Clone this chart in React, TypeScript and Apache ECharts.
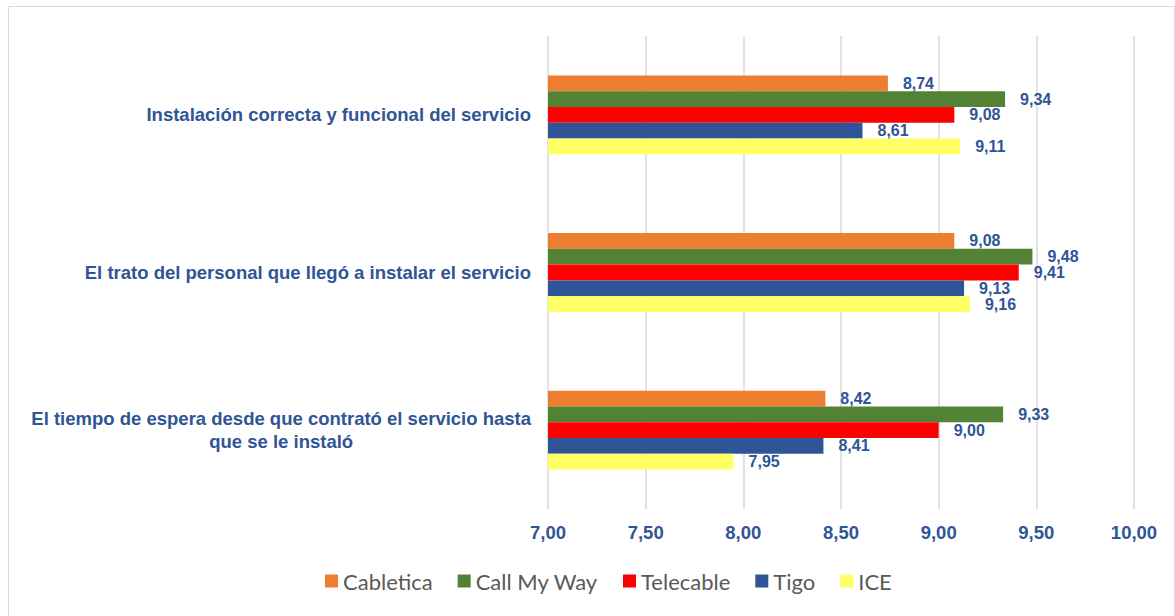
import React, { useEffect, useRef } from "react";
import * as echarts from "echarts";

const categories = [
  "Instalación correcta y funcional del servicio",
  "El trato del personal que llegó a instalar el servicio",
  "El tiempo de espera desde que contrató el servicio hasta\nque se le instaló",
];
const seriesNames = ["Cabletica", "Call My Way", "Telecable", "Tigo", "ICE"];
const cabletica = [8.74, 9.08, 8.42];
const callMyWay = [9.34, 9.48, 9.33];
const telecable = [9.08, 9.41, 9.0];
const tigo = [8.61, 9.13, 8.41];
const ice = [9.11, 9.16, 7.95];
const seriesColors = ["#ED7D31", "#548235", "#FF0000", "#2F5597", "#FFFF66"];
const xTicks = { min: 7, max: 10, interval: 0.5 };

const fmt = (v: number) => v.toFixed(2).replace(".", ",");

const blue = "#2F5597";

export default function App() {
  const ref = useRef<HTMLDivElement>(null);
  useEffect(() => {
    if (!ref.current) return;
    const chart = echarts.init(ref.current, undefined, { renderer: "svg" });
    const values = [cabletica, callMyWay, telecable, tigo, ice];
    chart.setOption({
      animation: false,
      backgroundColor: "#ffffff",
      grid: { left: 539, right: 40, top: 29, bottom: 108, containLabel: false },
      legend: {
        top: 558,
        left: 311,
        itemWidth: 13,
        itemHeight: 13,
        itemGap: 25,
        icon: "rect",
        textStyle: { fontFamily: "Lato", fontSize: 22, color: "#595959" },
        data: seriesNames,
      },
      xAxis: {
        type: "value",
        min: xTicks.min,
        max: xTicks.max,
        interval: xTicks.interval,
        axisLine: { show: false },
        axisTick: { show: false },
        splitLine: { lineStyle: { color: "#d9d9d9", width: 1.5 } },
        axisLabel: {
          margin: 14,
          fontFamily: "Liberation Sans",
          fontWeight: "bold",
          fontSize: 18.5,
          color: blue,
          formatter: (v: number) => fmt(v),
        },
      },
      yAxis: {
        type: "category",
        inverse: true,
        data: categories,
        axisLine: { show: false },
        axisTick: { show: false },
        axisLabel: {
          margin: 17,
          fontFamily: "Liberation Sans",
          fontWeight: "bold",
          fontSize: 18.5,
          color: blue,
          lineHeight: 23,
          formatter: (v: string) => {
            const parts = v.split("\n");
            if (parts.length === 1) return `{a|${parts[0]}}`;
            return parts.map((p) => `{c|${p}}`).join("\n");
          },
          rich: {
            a: {
              fontFamily: "Liberation Sans",
              fontWeight: "bold",
              fontSize: 18.5,
              color: blue,
            },
            c: {
              fontFamily: "Liberation Sans",
              fontWeight: "bold",
              fontSize: 18.5,
              color: blue,
              align: "center",
              lineHeight: 23,
            },
          },
        },
      },
      series: seriesNames.map((name, i) => ({
        name,
        type: "bar",
        data: values[i],
        barGap: "0%",
        barCategoryGap: "50%",
        itemStyle: { color: seriesColors[i] },
        label: {
          show: true,
          position: "right",
          distance: 15,
          fontFamily: "Liberation Sans",
          fontWeight: "bold",
          fontSize: 16,
          color: blue,
          formatter: (p: any) => fmt(p.value),
        },
      })),
    });
    return () => chart.dispose();
  }, []);
  return (
    <div
      ref={ref}
      style={{
        position: "fixed",
        left: 8,
        top: 6,
        width: 1167,
        height: 612,
        border: "1px solid #d9d9d9",
        boxSizing: "border-box",
      }}
    />
  );
}
